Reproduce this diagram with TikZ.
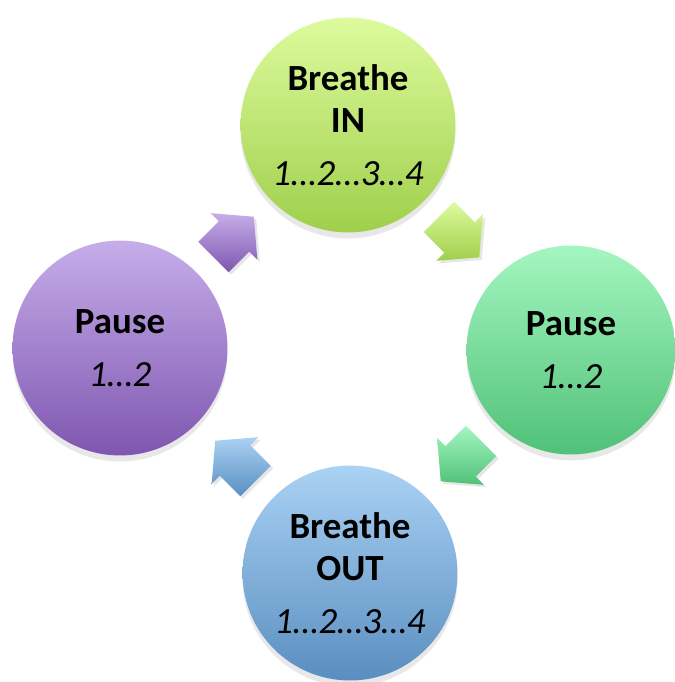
\documentclass[tikz,border=0pt]{standalone}
\usepackage{fontspec}
\setmainfont{Carlito}
\usepackage{tikz}
\usetikzlibrary{calc, shadows}
\definecolor{inlight}{HTML}{DDFB9D}
\definecolor{indark}{HTML}{9FCF4C}
\definecolor{holdlight}{HTML}{A4F6C0}
\definecolor{holddark}{HTML}{50C178}
\definecolor{outlight}{HTML}{AAD2F4}
\definecolor{outdark}{HTML}{5A8EC0}
\definecolor{restlight}{HTML}{C6AEE9}
\definecolor{restdark}{HTML}{7F56B0}
\tikzset{
    % phase circles
    phase/.style 2 args={circle, top color=#1, bottom color=#2, draw=none,
                minimum size=4.3cm, inner sep=0pt, align=center,
                font=\fontsize{21}{24}\selectfont,
                drop shadow={opacity=0.18, shadow xshift=0pt, shadow yshift=-1.2mm}},
    % block arrows between phases
    pics/cyclearrow/.style 2 args={code={
        \shade[top color=#1, bottom color=#2,
               drop shadow={opacity=0.2, shadow xshift=0.5mm, shadow yshift=-0.5mm}]
            (-29,-21.5) -- (0,-21.5) -- (0,-33) -- (28,0) -- (0,33)
            -- (0,21.5) -- (-29,21.5) -- cycle;
    }},
}
\begin{document}
\begin{tikzpicture}[x=0.02cm, y=-0.02cm]
\useasboundingbox (0,0) rectangle (674,682);

\node[phase={inlight}{indark}]     (inhale)  at (348,125) {\textbf{Breathe}\\\textbf{IN}\\[6pt]\textit{1…2…3…4}};
\node[phase={holdlight}{holddark}, minimum size=4.18cm] (holdin) at (571,350) {\textbf{Pause}\\[6pt]\textit{1…2}};
\node[phase={outlight}{outdark}]   (exhale)  at (350,573) {\textbf{Breathe}\\\textbf{OUT}\\[6pt]\textit{1…2…3…4}};
\node[phase={restlight}{restdark}] (holdout) at (120,348) {\textbf{Pause}\\[6pt]\textit{1…2}};

\pic[rotate=-45]  at ($(inhale)!0.5!(holdin)$)  {cyclearrow={inlight}{indark}};
\pic[rotate=-135] at ($(holdin)!0.5!(exhale)$)  {cyclearrow={holdlight}{holddark}};
\pic[rotate=135]  at ($(exhale)!0.5!(holdout)$) {cyclearrow={outlight}{outdark}};
\pic[rotate=45]   at ($(holdout)!0.5!(inhale)$) {cyclearrow={restlight}{restdark}};
\end{tikzpicture}
\end{document}
